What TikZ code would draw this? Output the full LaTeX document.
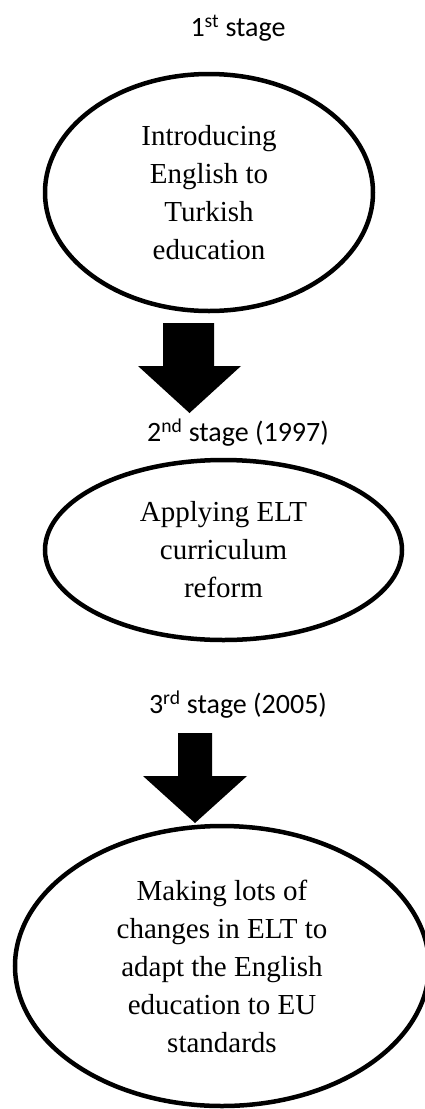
\documentclass[tikz,border=0pt]{standalone}
\usepackage{fontspec}
\setmainfont{Liberation Serif}
\newfontfamily\calibri{Carlito}
\usetikzlibrary{shapes.geometric}

\begin{document}
\begin{tikzpicture}[x=1pt, y=-1pt,
  stagebox/.style={ellipse, draw, line width=4.5pt, inner sep=0pt, align=center,
    font=\fontsize{29}{38}\selectfont},
  stagetitle/.style={font=\calibri\fontsize{28}{32}\selectfont},
  blockarrow/.style={fill=black}]

  \clip (0,0) rectangle (425,1109);

  % stage titles
  \node[stagetitle] (title1) at (238,28) {1\textsuperscript{st} stage};
  \node[stagetitle] (title2) at (238,433) {2\textsuperscript{nd} stage (1997)};
  \node[stagetitle] (title3) at (238,705) {3\textsuperscript{rd} stage (2005)};

  % stage ellipses
  \node[stagebox, minimum width=328, minimum height=237] (stage1) at (209,192.5)
    {Introducing\\English to\\Turkish\\education};
  \node[stagebox, minimum width=357, minimum height=180] (stage2) at (223.5,550)
    {Applying ELT\\curriculum\\reform};
  \node[stagebox, minimum width=414, minimum height=280] (stage3) at (222,966)
    {Making lots of\\changes in ELT to\\adapt the English\\education to EU\\standards};

  % block arrows
  \coordinate (a1) at (188.5,323);
  \fill[blockarrow] (a1) ++(-25.5,0) -- ++(51,0) -- ++(0,43) -- ++(27,0)
    -- (189.5,413) -- (138,366) -- ++(25,0) -- cycle;
  \coordinate (a2) at (195,733);
  \fill[blockarrow] (a2) ++(-17,0) -- ++(34,0) -- ++(0,43) -- ++(35,0)
    -- (195,823) -- (143,776) -- ++(35,0) -- cycle;

\end{tikzpicture}
\end{document}
